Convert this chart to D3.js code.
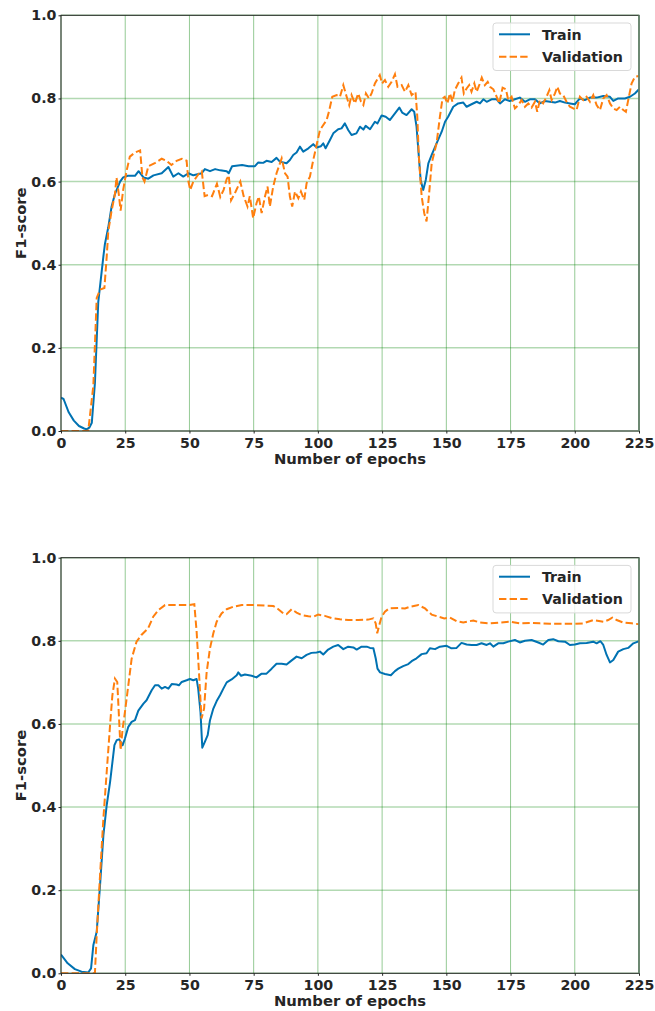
<!DOCTYPE html>
<html>
<head>
<meta charset="utf-8">
<script src="https://cdn.jsdelivr.net/npm/d3@7"></script>
<style>
  body { margin: 0; background: #fff; }
  text { font-family: "DejaVu Sans", sans-serif; font-weight: bold; fill: #262626; }
  .tick text { font-size: 14.2px; }
  .label { font-size: 14.8px; }
  .legend text { font-size: 14.2px; }
</style>
</head>
<body>
<svg id="chart" width="655" height="1011"></svg>
<script>
// epoch ticks / f1 ticks
const xTicks = [0, 25, 50, 75, 100, 125, 150, 175, 200, 225];
const yTicks = [0, 0.2, 0.4, 0.6, 0.8, 1.0];
const seriesNames = ['Train', 'Validation'];

// top panel: [epoch, f1]
const topTrain = [[0,0.080],[1,0.077],[3,0.045],[5,0.025],[7,0.012],[9,0.006],[10,0.004],[11,0.008],[12,0.02],[13.2,0.115],[14.5,0.31],[16.5,0.42],[17.1,0.45],[18.4,0.49],[19.7,0.54],[21,0.57],[23,0.60],[24.2,0.61],[26,0.614],[28.8,0.614],[30.2,0.625],[32.1,0.61],[34,0.607],[36,0.615],[39.2,0.62],[41.8,0.635],[43.7,0.612],[45.7,0.62],[47.6,0.612],[49.6,0.62],[51.5,0.615],[54.8,0.62],[56,0.63],[58,0.625],[60,0.63],[62,0.627],[64.5,0.625],[65.3,0.62],[66.6,0.637],[70.5,0.64],[73,0.637],[75.5,0.637],[76.8,0.646],[78.7,0.645],[80,0.65],[82,0.647],[83.9,0.657],[85.2,0.648],[87.8,0.644],[89.1,0.652],[90.4,0.664],[91.7,0.67],[93,0.684],[94.3,0.672],[96.3,0.68],[98.2,0.69],[99.5,0.682],[101.2,0.685],[102.1,0.692],[103,0.68],[104.7,0.70],[106,0.716],[107.9,0.726],[109.2,0.728],[110.5,0.74],[111.8,0.724],[113.1,0.712],[115,0.716],[116.4,0.732],[117.7,0.725],[118.6,0.734],[120.3,0.726],[122.2,0.744],[123.2,0.74],[124.8,0.759],[126.4,0.756],[128,0.748],[130,0.764],[131.7,0.778],[132.8,0.766],[134.5,0.76],[136.5,0.774],[137.5,0.768],[138.4,0.732],[139.1,0.676],[140,0.604],[141,0.58],[142,0.604],[143,0.644],[144.3,0.664],[146.2,0.692],[148.2,0.72],[149.5,0.744],[150.7,0.756],[152.7,0.78],[154.6,0.788],[156.6,0.79],[157.9,0.78],[159.8,0.786],[161.8,0.792],[163.1,0.788],[164.4,0.798],[165.7,0.792],[167.6,0.798],[169.6,0.798],[170.9,0.788],[172.8,0.798],[174.7,0.794],[176.7,0.798],[178.6,0.802],[180.6,0.792],[182.5,0.798],[184.5,0.798],[186.4,0.788],[188.4,0.794],[190.3,0.792],[192.3,0.79],[194.2,0.794],[196.2,0.79],[198.1,0.788],[200,0.786],[202,0.8],[203.9,0.796],[205.9,0.802],[208.5,0.802],[211.1,0.806],[213.7,0.804],[215,0.794],[216.9,0.8],[219.5,0.8],[221.5,0.804],[223.4,0.812],[225,0.822]];

const topValid = [[0,0],[10.6,0],[12.6,0.11],[13.9,0.32],[15.2,0.34],[16.9,0.344],[17.8,0.42],[18.4,0.48],[19.7,0.53],[21,0.57],[21.6,0.61],[22.5,0.57],[23.2,0.53],[24.2,0.58],[25.5,0.625],[26.8,0.66],[28.8,0.67],[30.8,0.675],[31.7,0.61],[32.5,0.60],[34,0.637],[36.7,0.645],[39.2,0.655],[41.1,0.65],[43,0.64],[45,0.65],[47,0.655],[48.9,0.65],[49.6,0.6],[50.3,0.58],[51.5,0.60],[53.5,0.618],[54.8,0.625],[55.9,0.565],[57.4,0.568],[58.8,0.565],[60.7,0.595],[62,0.563],[63.3,0.58],[64.5,0.606],[65.3,0.615],[66.2,0.555],[67.9,0.575],[69.8,0.60],[71.1,0.565],[72.6,0.54],[73.5,0.565],[74.8,0.512],[76.1,0.548],[77,0.564],[78.1,0.524],[79.4,0.564],[80.4,0.588],[81.3,0.54],[82.6,0.588],[83.9,0.62],[85.9,0.656],[87.2,0.62],[88.2,0.612],[89.1,0.564],[90,0.54],[91.1,0.576],[92.4,0.56],[93.4,0.576],[94.7,0.556],[95.6,0.596],[96.9,0.612],[98.2,0.652],[99.5,0.688],[100.8,0.724],[102.1,0.736],[103.4,0.748],[104.3,0.768],[105.6,0.804],[107.3,0.808],[108.6,0.804],[109.9,0.832],[111.2,0.804],[112.2,0.784],[113.1,0.808],[114.4,0.788],[115.7,0.812],[116.8,0.792],[117.7,0.784],[118.7,0.812],[119.9,0.8],[120.9,0.812],[122.2,0.836],[124.1,0.856],[125,0.836],[126.1,0.844],[127.4,0.828],[128.7,0.84],[130,0.858],[131,0.828],[132.6,0.832],[133.9,0.816],[135.2,0.832],[136.5,0.808],[138,0.816],[138.7,0.756],[139.3,0.66],[140.4,0.564],[141.4,0.524],[142.3,0.504],[143.2,0.564],[144.3,0.644],[146.2,0.692],[147.5,0.756],[148.5,0.8],[149.4,0.804],[150.4,0.788],[151.4,0.812],[152.4,0.792],[153.3,0.82],[154.6,0.836],[155.9,0.85],[156.8,0.812],[157.9,0.824],[158.9,0.832],[159.8,0.816],[160.9,0.836],[161.8,0.816],[162.8,0.832],[163.8,0.85],[165,0.832],[166.1,0.84],[167,0.828],[168.3,0.822],[169.6,0.804],[170.6,0.788],[171.9,0.826],[173.2,0.822],[174.1,0.796],[175.4,0.804],[176.7,0.776],[178,0.784],[179.3,0.796],[180.6,0.78],[181.9,0.788],[183.2,0.778],[184.5,0.792],[185.4,0.768],[186.4,0.796],[187.7,0.788],[189,0.804],[190.1,0.82],[191,0.796],[192.3,0.812],[193.2,0.828],[194.2,0.812],[195.5,0.808],[196.8,0.792],[198.1,0.78],[199.4,0.776],[200.7,0.772],[202,0.804],[203.3,0.796],[204.6,0.804],[205.9,0.792],[207.2,0.808],[208.5,0.784],[209.8,0.772],[211.1,0.8],[212.4,0.808],[213.7,0.788],[215,0.776],[216.3,0.772],[217.6,0.78],[218.9,0.772],[219.9,0.768],[220.8,0.796],[222.1,0.836],[223.4,0.852],[225,0.854]];

// bottom panel: [epoch, f1]
const bottomTrain = [[0,0.045],[2.6,0.024],[5.4,0.01],[8,0.004],[10.6,0.002],[11.7,0.012],[12.6,0.068],[13.9,0.1],[15.2,0.212],[16.5,0.332],[17.8,0.405],[19.1,0.46],[20.8,0.549],[21.7,0.561],[22.6,0.563],[23.2,0.557],[24,0.549],[24.9,0.565],[26.2,0.593],[27.5,0.605],[28.8,0.609],[30.1,0.632],[32.1,0.649],[33.3,0.657],[35.3,0.681],[36.6,0.693],[37.9,0.693],[39.2,0.685],[40.5,0.689],[41.8,0.685],[43.1,0.696],[45,0.695],[45.9,0.693],[47,0.701],[48.9,0.705],[50.2,0.708],[51.5,0.705],[52.8,0.708],[53.4,0.685],[54.3,0.629],[55,0.543],[56,0.557],[57.1,0.573],[58,0.609],[59.3,0.637],[60.6,0.655],[61.9,0.669],[63.2,0.685],[64.5,0.7],[66.4,0.707],[68.4,0.717],[69,0.724],[70.1,0.716],[71.6,0.719],[74.2,0.716],[76.1,0.712],[78.1,0.721],[80,0.721],[82,0.733],[83.9,0.745],[85.9,0.745],[87.8,0.743],[89.8,0.753],[91.7,0.762],[93.7,0.758],[95.6,0.766],[97.5,0.771],[99.5,0.772],[100.8,0.774],[102.1,0.767],[104,0.779],[106,0.786],[107.9,0.79],[109.9,0.78],[111.8,0.786],[113.8,0.784],[115.1,0.779],[117,0.786],[119,0.786],[120.3,0.783],[121.6,0.782],[122.5,0.758],[123.2,0.733],[124.2,0.724],[126.1,0.72],[128.4,0.717],[130,0.727],[131.3,0.733],[133.2,0.739],[135.2,0.744],[136.5,0.751],[138.4,0.758],[140.4,0.768],[142.3,0.77],[143.6,0.782],[145.6,0.78],[147.5,0.786],[150.1,0.788],[152,0.782],[154,0.783],[155.9,0.795],[157.9,0.791],[159.8,0.79],[161.8,0.79],[163.7,0.794],[165.7,0.79],[167,0.794],[168.3,0.786],[170.2,0.794],[172.2,0.794],[174.1,0.798],[176.7,0.802],[178.6,0.796],[180.6,0.8],[183.2,0.802],[185.8,0.796],[187.7,0.791],[189.7,0.802],[191.6,0.804],[193.6,0.799],[196.2,0.798],[198.1,0.79],[200,0.791],[202,0.794],[204.6,0.795],[207.2,0.798],[208.5,0.794],[210,0.799],[211.1,0.79],[212.4,0.766],[213.7,0.748],[215,0.754],[216.9,0.774],[218.9,0.78],[220.8,0.783],[222.8,0.794],[225,0.799]];

const bottomValid = [[0,0],[13.2,0],[13.9,0.092],[15.2,0.236],[16.5,0.373],[17.8,0.485],[19.1,0.597],[20,0.669],[21,0.709],[21.9,0.701],[22.6,0.613],[23.2,0.537],[24,0.589],[24.9,0.629],[26.2,0.693],[27.5,0.757],[29.4,0.798],[31.3,0.814],[33.9,0.83],[35.9,0.858],[37.9,0.874],[40.5,0.886],[44.4,0.886],[49.6,0.886],[51.9,0.888],[52.8,0.822],[53.7,0.725],[54.7,0.613],[55.7,0.637],[56.7,0.725],[58,0.782],[59.3,0.818],[60.6,0.846],[62.5,0.866],[64.5,0.876],[67.1,0.882],[70.4,0.886],[75.3,0.886],[82.6,0.884],[84.6,0.876],[86.5,0.866],[87.8,0.864],[89.8,0.876],[91.7,0.868],[93.7,0.862],[96.3,0.859],[98.2,0.858],[100.1,0.863],[102.7,0.86],[105.3,0.855],[108.6,0.852],[111.8,0.85],[115.7,0.85],[119.6,0.851],[121.6,0.854],[122.5,0.842],[123.1,0.818],[123.9,0.838],[124.8,0.858],[126.1,0.87],[127.7,0.878],[131.3,0.879],[133.9,0.878],[135.8,0.882],[139.1,0.886],[141.7,0.878],[144.3,0.863],[146.9,0.858],[149.2,0.854],[151.4,0.856],[154,0.847],[156.6,0.844],[160.5,0.849],[163.1,0.844],[167,0.842],[170.9,0.844],[174.7,0.846],[178.6,0.842],[182.5,0.843],[186.4,0.842],[190.3,0.841],[194.2,0.841],[199.4,0.841],[203.3,0.842],[207.2,0.85],[211.1,0.846],[213,0.85],[214.6,0.856],[216.3,0.85],[218.9,0.844],[222.1,0.842],[225,0.84]];

const colors = { train: '#0072b2', valid: '#ff7f0e' };
const svg = d3.select('#chart');

function drawPanel(id, top, bottom, train, valid) {
    const left = 61, right = 639;
    const x = d3.scaleLinear().domain([0, 225]).range([left, right]);
    const y = d3.scaleLinear().domain([0, 1]).range([bottom, top]);
    const g = svg.append('g').attr('class', 'panel');

    g.append('clipPath').attr('id', 'clip' + id)
      .append('rect')
      .attr('x', left).attr('y', top - 2)
      .attr('width', right - left).attr('height', bottom - top + 2);

    // grid
    g.append('g')
      .selectAll('line.gx')
      .data(xTicks)
      .enter().append('line')
      .attr('x1', d => x(d)).attr('x2', d => x(d))
      .attr('y1', top).attr('y2', bottom)
      .attr('stroke', 'green').attr('stroke-opacity', 0.42).attr('stroke-width', 1);
    g.append('g')
      .selectAll('line.gy')
      .data(yTicks)
      .enter().append('line')
      .attr('x1', left).attr('x2', right)
      .attr('y1', d => y(d)).attr('y2', d => y(d))
      .attr('stroke', 'green').attr('stroke-opacity', 0.3).attr('stroke-width', 1.5);

    const line = d3.line().x(d => x(d[0])).y(d => y(d[1]));

    g.append('path')
      .datum(train)
      .attr('clip-path', `url(#clip${id})`)
      .attr('d', line)
      .attr('fill', 'none')
      .attr('stroke', colors.train)
      .attr('stroke-width', 2)
      .attr('stroke-linejoin', 'round');

    g.append('path')
      .datum(valid)
      .attr('clip-path', `url(#clip${id})`)
      .attr('d', line)
      .attr('fill', 'none')
      .attr('stroke', colors.valid)
      .attr('stroke-width', 2)
      .attr('stroke-dasharray', '7.4,3.2');

    // frame
    g.append('rect')
      .attr('x', left).attr('y', top)
      .attr('width', right - left).attr('height', bottom - top)
      .attr('fill', 'none').attr('stroke', '#262626').attr('stroke-width', 1);
    g.append('line')
      .attr('x1', right).attr('x2', right).attr('y1', top).attr('y2', bottom)
      .attr('stroke', '#6b8a72').attr('stroke-width', 1.6);

    // axes
    const xAxis = g.append('g')
      .attr('transform', `translate(0, ${bottom})`)
      .call(d3.axisBottom(x).tickValues(xTicks).tickSize(2.5).tickPadding(4).tickFormat(d3.format('d')));
    const yAxis = g.append('g')
      .attr('transform', `translate(${left}, 0)`)
      .call(d3.axisLeft(y).tickValues(yTicks).tickSize(2.5).tickPadding(2).tickFormat(d3.format('.1f')));
    [xAxis, yAxis].forEach(a => {
        a.select('.domain').remove();
        a.selectAll('.tick line').attr('stroke', '#262626');
        a.selectAll('.tick text').attr('fill', '#262626');
    });

    g.append('text')
      .attr('class', 'label')
      .attr('x', (left + right) / 2)
      .attr('y', bottom + 33)
      .attr('text-anchor', 'middle')
      .text('Number of epochs');

    g.append('text')
      .attr('class', 'label')
      .attr('transform', `translate(25.5, ${(top + bottom) / 2}) rotate(-90)`)
      .attr('text-anchor', 'middle')
      .text('F1-score');

    // legend
    const lg = g.append('g').attr('class', 'legend');
    lg.append('rect')
      .attr('x', 493).attr('y', top + 7.7)
      .attr('width', 138).attr('height', 47.5)
      .attr('rx', 3)
      .attr('fill', '#fff').attr('fill-opacity', 0.8)
      .attr('stroke', '#d9d9d9').attr('stroke-width', 1);
    const entries = [
        { name: seriesNames[0], color: colors.train, dash: null },
        { name: seriesNames[1], color: colors.valid, dash: '7.4,3.2' }
    ];
    entries.forEach((e, i) => {
        const ly = top + 19 + i * 22.4;
        lg.append('line')
          .attr('x1', 499).attr('x2', 530)
          .attr('y1', ly).attr('y2', ly)
          .attr('stroke', e.color).attr('stroke-width', 2)
          .attr('stroke-dasharray', e.dash);
        lg.append('text')
          .attr('x', 542).attr('y', ly + 5.3)
          .text(e.name);
    });
}

drawPanel('top', 15.3, 431, topTrain, topValid);
drawPanel('bottom', 557.7, 973.3, bottomTrain, bottomValid);
</script>
</body>
</html>
